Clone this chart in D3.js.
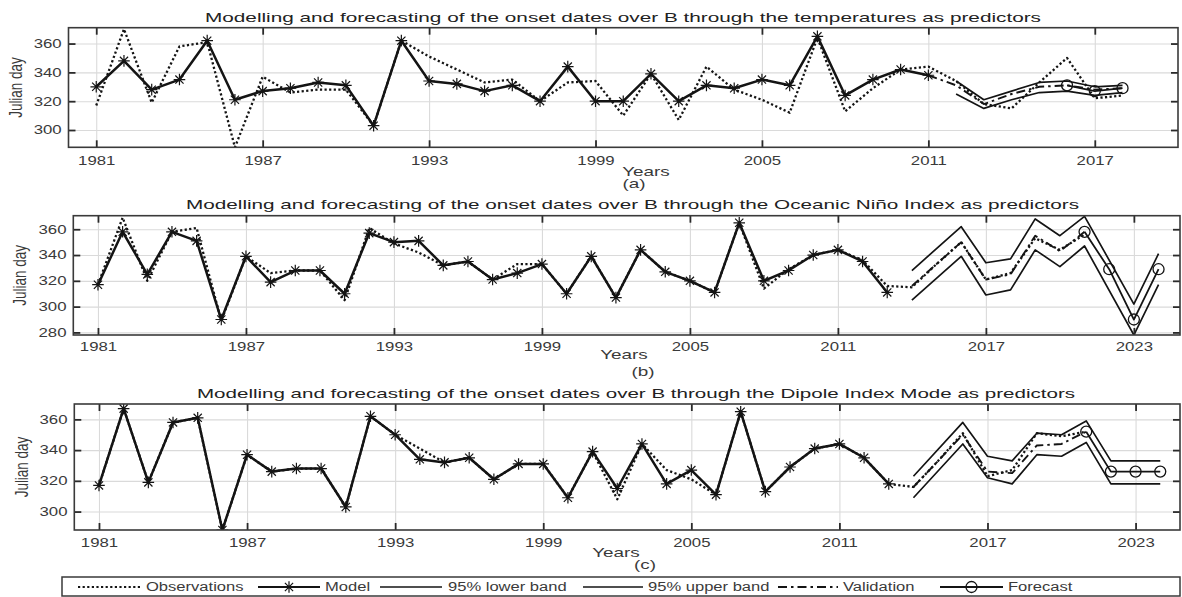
<!DOCTYPE html>
<html><head><meta charset="utf-8">
<script src="https://cdn.jsdelivr.net/npm/d3@7"></script>
<style>body{margin:0;background:#fff}svg{display:block}</style>
</head><body><svg id="c" width="1182" height="597"></svg>
<script>
// ---------------- DATA ----------------
const titles = [
  "Modelling and forecasting of the onset dates over B through the temperatures as predictors",
  "Modelling and forecasting of the onset dates over B through the Oceanic Niño Index as predictors",
  "Modelling and forecasting of the onset dates over B through the Dipole Index Mode as predictors"
];
const panelTags = ["(a)", "(b)", "(c)"];
const xTicksA = [1981, 1987, 1993, 1999, 2005, 2011, 2017];
const xTicksBC = [1981, 1987, 1993, 1999, 2005, 2011, 2017, 2023];
const yTicksA = [300, 320, 340, 360];
const yTicksB = [280, 300, 320, 340, 360];
const yTicksC = [300, 320, 340, 360];
const legendLabels = ["Observations", "Model", "95% lower band", "95% upper band", "Validation", "Forecast"];

const YEARS = [1981,1982,1983,1984,1985,1986,1987,1988,1989,1990,1991,1992,1993,1994,1995,1996,1997,1998,1999,2000,
               2001,2002,2003,2004,2005,2006,2007,2008,2009,2010,2011,2012,2013,2014,2015,2016,2017,2018,2019,2020,2021];

// Panel (a) temperatures
const modelA = [330,348,328,335,362,321,327,329,333,331,303,362,334,332,327,331,320,344,320,320,339,320,331,329,335,331,365,324,335,342,338]; // 1981-2011
const obsA = [317,370,319,358,361,288,337,326,328,328,303,362,351,342,333,335,320,333,334,310,339,307,344,328,321,312,364,313,329,342,344,334,318,315,333,350,322,324]; // 1981-2018
const valYearsA = [2011,2012,2013,2014,2015,2016,2017,2018];
const valA = [338,331,318,325,330,331,328,329];
const bandYearsA = [2012,2013,2014,2015,2016,2017,2018];
const lowerA = [325,315,321,326,327,324,326];
const upperA = [334,321,327,333,334,330,331];
const fcYearsA = [2016,2017,2018];
const fcA = [331,327,329];

// Panel (b) Oceanic Nino Index
const modelB = [317,358,325,358,351,290,339,319,328,328,310,357,350,351,332,335,321,326,333,310,339,307,344,327,320,311,365,320,328,340,344,335,311]; // 1981-2013
const obsB = [317,369,320,358,361,289,339,326,328,328,305,361,349,342,332,335,321,333,333,310,339,307,344,327,320,311,365,314,329,340,344,336,316,315,333,350,321,326,353,344,356]; // 1981-2021
const valYearsB = [2014,2016,2017,2018,2019,2020,2021];
const valB = [316,350,321,325,355,343,358];
const bandYearsB = [2014,2016,2017,2018,2019,2020,2021,2023,2024];
const upperB = [328,362,334,337,368,355,370,302,341];
const lowerB = [305,339,309,313,344,331,347,278,317];
const fcYearsB = [2021,2022,2023,2024];
const fcB = [358,329,290,329];

// Panel (c) Dipole Index Mode
const modelC = [317,367,319,358,361,288,337,326,328,328,303,362,350,334,332,335,321,331,331,309,339,315,344,318,327,311,365,313,329,341,344,335,318]; // 1981-2013
const obsC = [317,367,319,358,361,288,337,326,328,328,303,362,350,341,332,335,321,331,331,309,339,308,344,327,321,311,365,313,329,341,344,335,318,316,333,351,323,327,351,349,352]; // 1981-2021
const valYearsC = [2014,2016,2017,2018,2019,2020,2021];
const valC = [316,350,326,325,343,344,352];
const bandYearsC = [2014,2016,2017,2018,2019,2020,2021,2022,2024];
const upperC = [323,358,336,333,351,350,359,333,333];
const lowerC = [309,344,322,318,337,336,345,318,318];
const fcYearsC = [2021,2022,2023,2024];
const fcC = [352,326,326,326];

// ---------------- LAYOUT ----------------
const FONT = '"Liberation Sans", Arial, Helvetica, sans-serif';
const SX = 1.4;
const TXT = "#3a3a3a";
const INK = "#141414";

const panels = [
  { title: titles[0], titleX: [205, 1041], titleY: 21.5, box: {l: 68.5, r: 1178, t: 27.7, b: 147.3},
    xDomain: [1980, 2020], yDomain: [288, 371], xTicks: xTicksA, yTicks: yTicksA, pad: 8.8,
    yearsXY: [646, 175.5], tagXY: [634, 188], tag: panelTags[0], ylabX: 21.5,
    model: [YEARS.slice(0, 31), modelA], obs: [YEARS.slice(0, 38), obsA],
    val: [valYearsA, valA], lower: [bandYearsA, lowerA], upper: [bandYearsA, upperA], fc: [fcYearsA, fcA] },
  { title: titles[1], titleX: [186, 1079], titleY: 209, box: {l: 73.3, r: 1180, t: 215.7, b: 335},
    xDomain: [1980, 2024.87], yDomain: [278, 370.5], xTicks: xTicksBC, yTicks: yTicksB, pad: 7.5,
    yearsXY: [624, 359], tagXY: [643, 376], tag: panelTags[1], ylabX: 26,
    model: [YEARS.slice(0, 33), modelB], obs: [YEARS.slice(0, 41), obsB],
    val: [valYearsB, valB], lower: [bandYearsB, lowerB], upper: [bandYearsB, upperB], fc: [fcYearsB, fcB] },
  { title: titles[2], titleX: [197, 1075], titleY: 398, box: {l: 74.3, r: 1180, t: 404, b: 530},
    xDomain: [1980, 2024.8], yDomain: [288, 370], xTicks: xTicksBC, yTicks: yTicksC, pad: 8.5,
    yearsXY: [616, 556.5], tagXY: [645, 569], tag: panelTags[2], ylabX: 28,
    model: [YEARS.slice(0, 33), modelC], obs: [YEARS.slice(0, 41), obsC],
    val: [valYearsC, valC], lower: [bandYearsC, lowerC], upper: [bandYearsC, upperC], fc: [fcYearsC, fcC] }
];

const svg = d3.select("#c");
svg.append("rect").attr("width", 1182).attr("height", 597).attr("fill", "#fff");

function asteriskPath(r) {
  const a = r * 0.7071;
  return `M${-r},0L${r},0M0,${-r}L0,${r}M${-a},${-a}L${a},${a}M${-a},${a}L${a},${-a}`;
}

const styles = {
  obs: {w: 2.3, dash: "2.2,2.4"},
  model: {w: 2.5, dash: null},
  lower: {w: 1.7, dash: null},
  upper: {w: 1.7, dash: null},
  val: {w: 1.9, dash: "9,4,2.5,4"},
  fc: {w: 1.8, dash: null}
};

function pts(years, vals) { return years.map((yr, i) => [yr, vals[i]]); }

panels.forEach((p, idx) => {
  const {l, r, t, b} = p.box;
  const x = d3.scaleLinear().domain(p.xDomain).range([l, r]);
  const y = d3.scaleLinear().domain(p.yDomain).range([b, t]);
  const g = svg.append("g");

  // grid
  g.append("g").attr("transform", `translate(0,${b})`)
    .call(d3.axisBottom(x).tickValues(p.xTicks).tickSize(-(b - t)).tickFormat(""))
    .call(s => { s.select(".domain").remove(); s.selectAll("line").attr("stroke", "#dadada").attr("stroke-width", 1.1); });
  g.append("g").attr("transform", `translate(${l},0)`)
    .call(d3.axisLeft(y).tickValues(p.yTicks).tickSize(-(r - l)).tickFormat(""))
    .call(s => { s.select(".domain").remove(); s.selectAll("line").attr("stroke", "#dadada").attr("stroke-width", 1.1); });

  // clip
  const cid = "clip" + idx;
  svg.append("clipPath").attr("id", cid).append("rect")
    .attr("x", l).attr("y", t).attr("width", r - l).attr("height", b - t);
  const plot = g.append("g").attr("clip-path", `url(#${cid})`);
  const line = d3.line().x(d => x(d[0])).y(d => y(d[1]));

  ["obs", "model", "lower", "upper", "val", "fc"].forEach(k => {
    const st = styles[k];
    const data = pts(p[k][0], p[k][1]);
    plot.append("path").datum(data).attr("d", line)
      .attr("fill", "none").attr("stroke", INK).attr("stroke-width", st.w)
      .attr("stroke-linejoin", "round")
      .attr("stroke-dasharray", st.dash);
    if (k === "model") {
      plot.selectAll(null).data(data).enter().append("path")
        .attr("transform", d => `translate(${x(d[0])},${y(d[1])})`)
        .attr("d", asteriskPath(5.8)).attr("stroke", INK).attr("stroke-width", 1.2).attr("fill", "none");
    }
    if (k === "fc") {
      plot.selectAll(null).data(data).enter().append("circle")
        .attr("cx", d => x(d[0])).attr("cy", d => y(d[1])).attr("r", 5.5)
        .attr("fill", "none").attr("stroke", INK).attr("stroke-width", 1.3);
    }
  });

  // axes with inward ticks
  const tickStyle = s => {
    s.select(".domain").remove();
    s.selectAll("line").attr("stroke", "#2a2a2a").attr("stroke-width", 1.8);
    s.selectAll("text").attr("fill", TXT).attr("font-family", FONT).attr("font-size", 12);
  };
  g.append("g").attr("transform", `translate(0,${b})`)
    .call(d3.axisBottom(x).tickValues(p.xTicks).tickSize(-7).tickPadding(p.pad).tickFormat(d3.format("d")))
    .call(tickStyle)
    .call(s => s.selectAll("text").attr("transform", `scale(${SX},1)`));
  g.append("g").attr("transform", `translate(0,${t})`)
    .call(d3.axisTop(x).tickValues(p.xTicks).tickSize(-7).tickFormat(""))
    .call(tickStyle);
  g.append("g").attr("transform", `translate(${l},0)`)
    .call(d3.axisLeft(y).tickValues(p.yTicks).tickSize(-7).tickFormat(d3.format("d")))
    .call(tickStyle)
    .call(s => s.selectAll("text").attr("x", -6.8 / SX).attr("transform", `scale(${SX},1)`));
  g.append("g").attr("transform", `translate(${r},0)`)
    .call(d3.axisRight(y).tickValues(p.yTicks).tickSize(-7).tickFormat(""))
    .call(tickStyle);

  // box
  g.append("rect").attr("x", l).attr("y", t).attr("width", r - l).attr("height", b - t)
    .attr("fill", "none").attr("stroke", "#3a3a3a").attr("stroke-width", 1.6);

  // title
  svg.append("text").attr("x", p.titleX[0]).attr("y", p.titleY)
    .attr("textLength", p.titleX[1] - p.titleX[0]).attr("lengthAdjust", "spacingAndGlyphs")
    .attr("font-family", FONT).attr("font-size", 13).attr("fill", "#222").text(p.title);

  // x label
  svg.append("text").attr("transform", `translate(${p.yearsXY[0]},${p.yearsXY[1]}) scale(${SX},1)`)
    .attr("text-anchor", "middle").attr("font-family", FONT).attr("font-size", 13.5).attr("fill", TXT).text("Years");
  svg.append("text").attr("transform", `translate(${p.tagXY[0]},${p.tagXY[1]}) scale(${SX},1)`)
    .attr("text-anchor", "middle").attr("font-family", FONT).attr("font-size", 13.5).attr("fill", TXT).text(p.tag);

  // y label
  svg.append("text").attr("transform", `translate(${p.ylabX},${(t + b) / 2}) rotate(-90) scale(1,1.3)`)
    .attr("text-anchor", "middle").attr("font-family", FONT).attr("font-size", 13.5).attr("fill", TXT).text("Julian day");
});

// ---------------- LEGEND ----------------
const lg = svg.append("g");
lg.append("rect").attr("x", 62).attr("y", 577).attr("width", 1118).attr("height", 19)
  .attr("fill", "#fff").attr("stroke", "#3a3a3a").attr("stroke-width", 1.5);
const legendItems = [
  {k: "obs", x0: 78, x1: 141, tx: 146},
  {k: "model", x0: 258, x1: 320, tx: 325},
  {k: "lower", x0: 380, x1: 442, tx: 448},
  {k: "upper", x0: 583, x1: 643, tx: 648},
  {k: "val", x0: 778, x1: 838, tx: 843},
  {k: "fc", x0: 940, x1: 1003, tx: 1008}
];
const ly = 587;
legendItems.forEach((it, i) => {
  const st = styles[it.k];
  lg.append("line").attr("x1", it.x0).attr("x2", it.x1).attr("y1", ly).attr("y2", ly)
    .attr("stroke", INK).attr("stroke-width", Math.min(st.w, 2)).attr("stroke-dasharray", st.dash);
  const mx = (it.x0 + it.x1) / 2;
  if (it.k === "model") {
    lg.append("path").attr("transform", `translate(${mx},${ly})`).attr("d", asteriskPath(5.8))
      .attr("stroke", INK).attr("stroke-width", 1.2).attr("fill", "none");
  }
  if (it.k === "fc") {
    lg.append("circle").attr("cx", mx).attr("cy", ly).attr("r", 5.5)
      .attr("fill", "none").attr("stroke", INK).attr("stroke-width", 1.3);
  }
  lg.append("text").attr("transform", `translate(${it.tx},${ly + 4.3}) scale(1.38,1)`)
    .attr("font-family", FONT).attr("font-size", 12).attr("fill", TXT).text(legendLabels[i]);
});
</script>
</body></html>
